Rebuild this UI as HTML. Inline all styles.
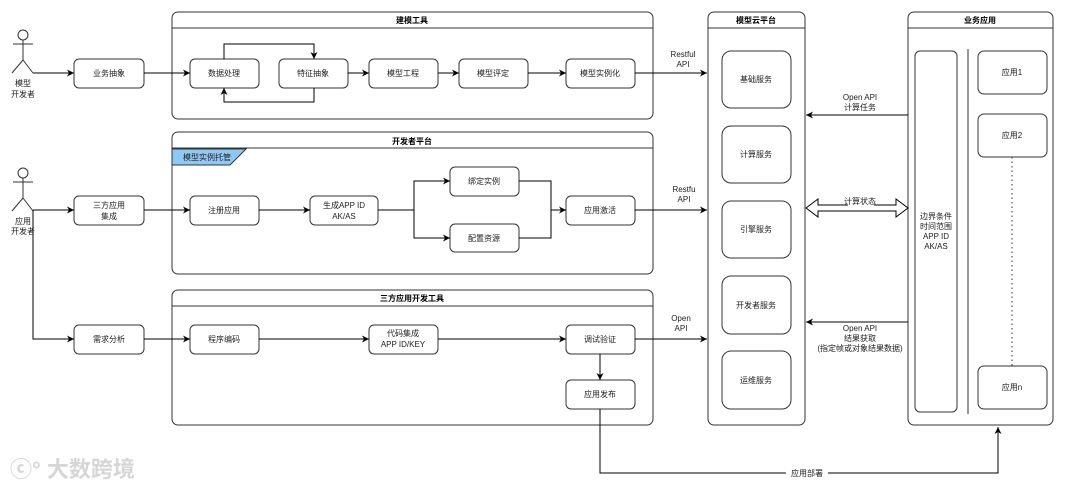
<!DOCTYPE html>
<html><head><meta charset="utf-8"><style>
html,body{margin:0;padding:0;background:#fff;}
svg{display:block;font-family:"Liberation Sans","Noto Sans CJK SC",sans-serif;}
</style></head><body>
<svg width="1080" height="489" viewBox="0 0 1080 489" xmlns="http://www.w3.org/2000/svg">
<defs>
<marker id="a" markerWidth="8" markerHeight="8" refX="7" refY="4" orient="auto" markerUnits="userSpaceOnUse">
<path d="M0,0.5 L7,4 L0,7.5 L2,4 Z" fill="#000"/></marker>
</defs>
<g fill="none" stroke="#333" stroke-width="1">
<!-- containers -->
<rect x="172" y="12" width="481" height="107" rx="6"/><line x1="172" y1="28" x2="653" y2="28"/>
<rect x="172" y="132" width="481" height="142" rx="6"/><line x1="172" y1="148" x2="653" y2="148"/>
<rect x="172" y="290" width="481" height="135" rx="6"/><line x1="172" y1="306" x2="653" y2="306"/>
<rect x="708" y="12" width="97" height="413" rx="6"/><line x1="708" y1="28" x2="805" y2="28"/>
<rect x="908" y="12" width="145" height="413" rx="6"/><line x1="908" y1="28" x2="1053" y2="28"/>
<!-- boxes -->
<rect x="74" y="59" width="70" height="29" rx="5"/>
<rect x="190" y="59" width="69" height="29" rx="5"/>
<rect x="279" y="59" width="69" height="29" rx="5"/>
<rect x="369" y="59" width="69" height="29" rx="5"/>
<rect x="459" y="59" width="69" height="29" rx="5"/>
<rect x="566" y="59" width="69" height="29" rx="5"/>
<rect x="74" y="196" width="70" height="29" rx="5"/>
<rect x="190" y="196" width="69" height="29" rx="5"/>
<rect x="310" y="196" width="68" height="29" rx="5"/>
<rect x="450" y="167" width="69" height="29" rx="5"/>
<rect x="450" y="224" width="69" height="28" rx="5"/>
<rect x="566" y="196" width="69" height="29" rx="5"/>
<rect x="74" y="325" width="70" height="29" rx="5"/>
<rect x="190" y="325" width="69" height="29" rx="5"/>
<rect x="369" y="325" width="69" height="29" rx="5"/>
<rect x="566" y="325" width="69" height="29" rx="5"/>
<rect x="566" y="380" width="69" height="29" rx="5"/>
<rect x="722" y="51" width="69" height="57" rx="9"/>
<rect x="722" y="126" width="69" height="57" rx="9"/>
<rect x="722" y="201" width="69" height="57" rx="9"/>
<rect x="722" y="276" width="69" height="58" rx="9"/>
<rect x="722" y="351" width="69" height="58" rx="9"/>
<rect x="915" y="51" width="42" height="361" rx="5"/>
<line x1="968" y1="49" x2="968" y2="414"/>
<rect x="978" y="51" width="69" height="43" rx="6"/>
<rect x="978" y="114" width="69" height="43" rx="6"/>
<rect x="978" y="366" width="69" height="43" rx="6"/>
<line x1="1012" y1="157" x2="1012" y2="366" stroke-dasharray="1.5,3"/>
<!-- actors -->
<circle cx="23" cy="35" r="5"/><path d="M23,40 V60 M13,44 H33 M23,60 L12,73 M23,60 L33,73"/>
<circle cx="23" cy="173" r="5"/><path d="M23,178 V198 M13,182 H33 M23,198 L12,211 M23,198 L33,211"/>
</g>
<!-- tag -->
<polygon points="172,149 246,149 230,165 172,165" fill="#8ec8f5" stroke="#333" stroke-width="1"/>
<!-- connectors -->
<g fill="none" stroke="#000" stroke-width="1">
<path d="M33,73 H74" marker-end="url(#a)"/>
<path d="M144,73 H190" marker-end="url(#a)"/>
<path d="M224,59 V44 H314 V59" marker-end="url(#a)"/>
<path d="M314,88 V102 H224 V88" marker-end="url(#a)"/>
<path d="M348,73 H369" marker-end="url(#a)"/>
<path d="M438,73 H459" marker-end="url(#a)"/>
<path d="M528,73 H566" marker-end="url(#a)"/>
<path d="M635,73 H707" marker-end="url(#a)"/>
<path d="M33,210 H74" marker-end="url(#a)"/>
<path d="M144,210 H190" marker-end="url(#a)"/>
<path d="M259,210 H310" marker-end="url(#a)"/>
<path d="M378,210 H414 V181 H450" marker-end="url(#a)"/>
<path d="M414,210 V238 H450" marker-end="url(#a)"/>
<path d="M519,181 H551 V238 H519"/>
<path d="M551,210 H566" marker-end="url(#a)"/>
<path d="M635,210 H707" marker-end="url(#a)"/>
<path d="M33,210 V339 H74" marker-end="url(#a)"/>
<path d="M144,339 H190" marker-end="url(#a)"/>
<path d="M259,339 H369" marker-end="url(#a)"/>
<path d="M438,339 H566" marker-end="url(#a)"/>
<path d="M635,339 H707" marker-end="url(#a)"/>
<path d="M600,354 V380" marker-end="url(#a)"/>
<path d="M600,409 V473 H998 V427" marker-end="url(#a)"/>
<path d="M908,115 H806" marker-end="url(#a)"/>
<path d="M908,322 H806" marker-end="url(#a)"/>
</g>
<!-- hollow double arrow -->
<polygon points="806,208 818,199 818,205 896,205 896,199 908,208 896,217 896,211 818,211 818,217" fill="#fff" stroke="#000" stroke-width="1"/>
<!-- text -->
<g font-size="8" fill="#222" text-anchor="middle">
<g font-weight="bold" fill="#000">
<text x="412" y="23">建模工具</text>
<text x="412" y="144">开发者平台</text>
<text x="412" y="301">三方应用开发工具</text>
<text x="756" y="23">模型云平台</text>
<text x="980" y="23">业务应用</text>
</g>
<text x="23" y="86">模型</text><text x="23" y="97">开发者</text>
<text x="23" y="224">应用</text><text x="23" y="234">开发者</text>
<text x="109" y="76">业务抽象</text>
<text x="224" y="76">数据处理</text>
<text x="313" y="76">特征抽象</text>
<text x="403" y="76">模型工程</text>
<text x="493" y="76">模型评定</text>
<text x="600" y="76">模型实例化</text>
<text x="207" y="160">模型实例托管</text>
<text x="109" y="208">三方应用</text><text x="109" y="219">集成</text>
<text x="224" y="213">注册应用</text>
<text x="344" y="208">生成APP ID</text><text x="344" y="219">AK/AS</text>
<text x="484" y="184">绑定实例</text>
<text x="484" y="241">配置资源</text>
<text x="600" y="213">应用激活</text>
<text x="109" y="342">需求分析</text>
<text x="224" y="342">程序编码</text>
<text x="403" y="336">代码集成</text><text x="403" y="347">APP ID/KEY</text>
<text x="600" y="342">调试验证</text>
<text x="600" y="397">应用发布</text>
<text x="756" y="82">基础服务</text>
<text x="756" y="157">计算服务</text>
<text x="756" y="232">引擎服务</text>
<text x="756" y="308">开发者服务</text>
<text x="756" y="383">运维服务</text>
<text x="1012" y="75">应用1</text>
<text x="1012" y="138">应用2</text>
<text x="1012" y="390">应用n</text>
<text x="936" y="219">边界条件</text><text x="936" y="229">时间范围</text><text x="936" y="239">APP ID</text><text x="936" y="249">AK/AS</text>
<text x="683" y="57">Restful</text><text x="683" y="67">API</text>
<text x="684" y="192">Restfu</text><text x="684" y="202">API</text>
<text x="681" y="321">Open</text><text x="681" y="331">API</text>
<text x="860" y="100">Open API</text><text x="860" y="110">计算任务</text>
<rect x="848" y="197" width="26" height="9" fill="#fff"/>
<text x="860" y="204">计算状态</text>
<text x="860" y="331">Open API</text><text x="860" y="341">结果获取</text><text x="860" y="351">(指定帧或对象结果数据)</text>
<rect x="786" y="468" width="42" height="10" fill="#fff"/>
<text x="807" y="476">应用部署</text>
</g>
<text x="10" y="477" font-size="22" fill="#d6d6d6" font-weight="bold">ⓒ° 大数跨境</text>
</svg>
</body></html>
